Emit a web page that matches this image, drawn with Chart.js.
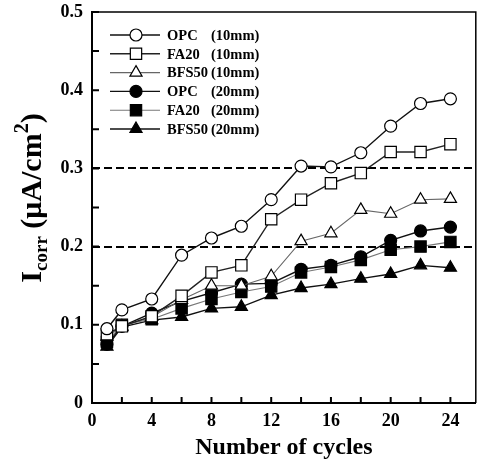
<!DOCTYPE html>
<html>
<head>
<meta charset="utf-8">
<script src="https://cdn.jsdelivr.net/npm/chart.js@4/dist/chart.umd.min.js"></script>
<style>
  html, body { margin: 0; padding: 0; background: #fff; }
  #wrap { width: 485px; height: 466px; }
</style>
</head>
<body>
<div id="wrap"><canvas id="mycanvas"></canvas></div>
<script>
// data
var cycles = [1, 2, 4, 6, 8, 10, 12, 14, 16, 18, 20, 22, 24];
var opc10   = [0.095, 0.119, 0.133, 0.189, 0.211, 0.226, 0.260, 0.303, 0.302, 0.320, 0.354, 0.383, 0.389];
var fa10    = [0.088, 0.098, 0.111, 0.137, 0.167, 0.176, 0.235, 0.260, 0.281, 0.294, 0.321, 0.321, 0.331];
var bfs10   = [0.085, 0.098, 0.110, 0.132, 0.150, 0.150, 0.162, 0.207, 0.217, 0.247, 0.242, 0.260, 0.261];
var opc20   = [0.075, 0.098, 0.115, 0.130, 0.141, 0.152, 0.153, 0.171, 0.176, 0.187, 0.208, 0.220, 0.225];
var fa20    = [0.078, 0.100, 0.107, 0.121, 0.133, 0.142, 0.149, 0.167, 0.174, 0.183, 0.196, 0.200, 0.206];
var bfs20   = [0.072, 0.097, 0.106, 0.110, 0.121, 0.123, 0.138, 0.147, 0.152, 0.159, 0.165, 0.176, 0.173];

var mixNames = ['OPC', 'FA20', 'BFS50', 'OPC', 'FA20', 'BFS50'];
var depths   = ['(10mm)', '(10mm)', '(10mm)', '(20mm)', '(20mm)', '(20mm)'];
var xTicks = [0, 2, 4, 6, 8, 10, 12, 14, 16, 18, 20, 22, 24];
var xLabels = [0, 4, 8, 12, 16, 20, 24];
var yTicks = [0, 0.05, 0.1, 0.15, 0.2, 0.25, 0.3, 0.35, 0.4, 0.45, 0.5];
var yLabels = [0, 0.1, 0.2, 0.3, 0.4, 0.5];
var refLines = [0.2, 0.3];

var serif = "'Liberation Serif', 'DejaVu Serif', serif";

function pts(vals) {
    var out = [];
    for (var i in cycles) {
        out.push({ x: cycles[i], y: vals[i] });
    }
    return out;
}

function series(label, vals, style, filled, radius, color, width) {
    return {
        label: label,
        data: pts(vals),
        showLine: true,
        borderColor: color,
        borderWidth: width,
        pointStyle: style,
        pointRadius: radius,
        pointHoverRadius: radius,
        pointBorderWidth: 1.2,
        pointBorderColor: '#000',
        pointBackgroundColor: filled ? '#000' : '#fff'
    };
}

var allSeries = [opc10, fa10, bfs10, opc20, fa20, bfs20];
var styles = ['circle', 'rect', 'triangle', 'circle', 'rect', 'triangle'];
var radii = [6, 8, 7, 6, 8, 7];
var lineColors = ['#111', '#222', '#666', '#111', '#777', '#111'];
var lineWidths = [1.4, 1.4, 1.1, 1.4, 1.1, 1.4];

var datasets = [];
for (var i = 0; i < allSeries.length; i++) {
    datasets.push(series(mixNames[i] + ' ' + depths[i], allSeries[i], styles[i], i >= 3, radii[i], lineColors[i], lineWidths[i]));
}

// dashed reference lines + frame + inward ticks
var decorPlugin = {
    id: 'decor',
    beforeDatasetsDraw: function (chart) {
        var ctx = chart.ctx, a = chart.chartArea, ys = chart.scales.y;
        ctx.save();
        ctx.strokeStyle = '#000';
        ctx.lineWidth = 2;
        ctx.setLineDash([8, 4]);
        refLines.forEach(function (v) {
            var py = Math.round(ys.getPixelForValue(v));
            ctx.beginPath();
            ctx.moveTo(a.left, py);
            ctx.lineTo(a.right, py);
            ctx.stroke();
        });
        ctx.restore();
    },
    afterDraw: function (chart) {
        var ctx = chart.ctx, a = chart.chartArea;
        var xs = chart.scales.x, ys = chart.scales.y;
        ctx.save();
        ctx.strokeStyle = '#000';
        ctx.lineWidth = 1.5;
        ctx.beginPath();
        ctx.moveTo(a.left, a.top);
        ctx.lineTo(a.right, a.top);
        ctx.lineTo(a.right, a.bottom);
        ctx.stroke();
        ctx.lineWidth = 2;
        ctx.beginPath();
        xTicks.forEach(function (v) {
            var px = xs.getPixelForValue(v);
            ctx.moveTo(px, a.bottom);
            ctx.lineTo(px, a.bottom - 6);
        });
        yTicks.forEach(function (v) {
            var py = ys.getPixelForValue(v);
            ctx.moveTo(a.left, py);
            ctx.lineTo(a.left + 7, py);
        });
        ctx.stroke();

        // y axis title with subscript and superscript
        var parts = [
            { t: 'I', size: 30, dy: 0 },
            { t: 'corr', size: 19, dy: 6 },
            { t: ' (\u03bcA/cm', size: 30, dy: 0 },
            { t: '2', size: 20, dy: -13 },
            { t: ')', size: 30, dy: 0 }
        ];
        var total = 0;
        parts.forEach(function (p) {
            ctx.font = 'bold ' + p.size + 'px ' + serif;
            p.w = ctx.measureText(p.t).width;
            total += p.w;
        });
        ctx.translate(41, 198);
        ctx.rotate(-Math.PI / 2);
        ctx.fillStyle = '#000';
        ctx.textBaseline = 'alphabetic';
        var cx = -total / 2;
        parts.forEach(function (p) {
            ctx.font = 'bold ' + p.size + 'px ' + serif;
            ctx.fillText(p.t, cx, p.dy);
            cx += p.w;
        });
        ctx.restore();

        // legend
        ctx.save();
        chart.data.datasets.forEach(function (ds, i) {
            var y = a.top + 23 + i * 18.8;
            var x0 = a.left + 18;
            ctx.strokeStyle = ds.borderColor;
            ctx.lineWidth = ds.borderWidth;
            ctx.beginPath();
            ctx.moveTo(x0, y);
            ctx.lineTo(x0 + 50, y);
            ctx.stroke();
            ctx.strokeStyle = '#000';
            ctx.fillStyle = ds.pointBackgroundColor;
            ctx.lineWidth = ds.pointBorderWidth;
            Chart.helpers.drawPoint(ctx, {
                pointStyle: ds.pointStyle, rotation: 0,
                radius: ds.pointRadius, borderWidth: ds.pointBorderWidth
            }, x0 + 26, y);
            ctx.fillStyle = '#000';
            ctx.font = 'bold 14.5px ' + serif;
            ctx.textBaseline = 'middle';
            ctx.fillText(mixNames[i], x0 + 57, y + 1);
            ctx.fillText(depths[i], x0 + 101, y + 1);
        });
        ctx.restore();
    }
};

var ctx = document.getElementById('mycanvas');

var lineGraph = new Chart(ctx, {
    type: 'scatter',
    data: { datasets: datasets },
    options: {
        responsive: true,
        maintainAspectRatio: false,
        animation: false,
        layout: { padding: { top: 12, right: 5, left: 0, bottom: 0 } },
        plugins: {
            legend: { display: false },
            tooltip: { enabled: false }
        },
        scales: {
            x: {
                type: 'linear',
                min: 0,
                max: 25.7,
                afterBuildTicks: function (scale) {
                    scale.ticks = xLabels.map(function (v) { return { value: v }; });
                },
                afterFit: function (scale) {
                    scale.height = 63;
                    scale.paddingLeft = 0;
                    scale.paddingRight = 0;
                },
                grid: { display: false, drawTicks: false },
                border: { color: '#000', width: 2 },
                ticks: {
                    color: '#000',
                    padding: 8,
                    maxRotation: 0,
                    font: { family: serif, size: 18, weight: 'bold' }
                },
                title: {
                    display: true,
                    text: 'Number of cycles',
                    color: '#000',
                    padding: { top: 0, bottom: 4 },
                    font: { family: serif, size: 24, weight: 'bold' }
                }
            },
            y: {
                min: 0,
                max: 0.5,
                afterBuildTicks: function (scale) {
                    scale.ticks = yLabels.map(function (v) { return { value: v }; });
                },
                afterFit: function (scale) {
                    scale.width = 92;
                    scale.paddingTop = 0;
                    scale.paddingBottom = 0;
                },
                grid: { display: false, drawTicks: false },
                border: { color: '#000', width: 2 },
                ticks: {
                    color: '#000',
                    padding: 9,
                    font: { family: serif, size: 18, weight: 'bold' },
                    callback: function (v) { return v === 0 ? '0' : v.toFixed(1); }
                }
            }
        }
    },
    plugins: [decorPlugin]
});
</script>
</body>
</html>
